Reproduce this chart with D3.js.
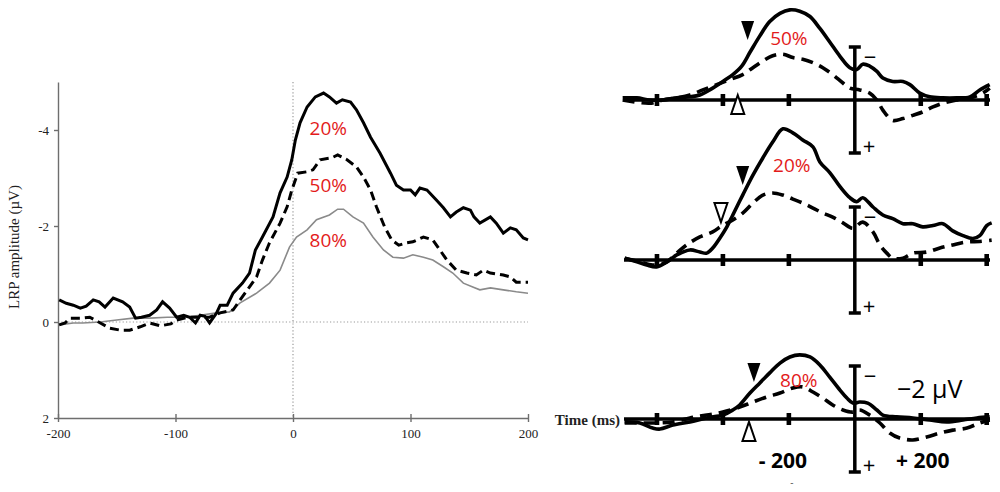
<!DOCTYPE html>
<html>
<head>
<meta charset="utf-8">
<script src="https://cdn.jsdelivr.net/npm/d3@7"></script>
<style>
  body { margin: 0; background: #fff; }
</style>
</head>
<body>
<div id="chart"></div>
<script>
// ---- left panel data: LRP amplitude (uV) by time (ms), negative is up
const lrp20 = [[-199,-0.46],[-193,-0.39],[-187,-0.35],[-181,-0.29],[-176,-0.33],[-170,-0.46],[-165,-0.42],[-160,-0.31],[-153,-0.5],[-145,-0.42],[-139,-0.31],[-134,-0.08],[-129,-0.1],[-122,-0.14],[-116,-0.25],[-111,-0.42],[-105,-0.29],[-99,-0.1],[-93,-0.14],[-88,-0.1],[-83,0.02],[-79,-0.14],[-75,-0.12],[-71,0.02],[-65,-0.19],[-62,-0.35],[-56,-0.35],[-51,-0.6],[-43,-0.81],[-37,-1.02],[-32,-1.5],[-26,-1.77],[-17,-2.19],[-11,-2.69],[-5,-3.02],[-1,-3.38],[2,-3.79],[6,-4.15],[12,-4.48],[19,-4.69],[26,-4.77],[31,-4.69],[37,-4.56],[42,-4.63],[49,-4.58],[54,-4.42],[60,-4.15],[66,-3.85],[74,-3.52],[83,-3.1],[88,-2.85],[94,-2.75],[100,-2.75],[104,-2.65],[108,-2.79],[114,-2.75],[122,-2.54],[128,-2.38],[134,-2.19],[139,-2.29],[145,-2.38],[151,-2.33],[154,-2.19],[159,-2.06],[168,-2.19],[173,-2.06],[179,-1.85],[185,-1.96],[190,-1.92],[196,-1.75],[200,-1.71]];
const lrp50 = [[-199,0.06],[-194,0.02],[-190,-0.08],[-181,-0.08],[-173,-0.1],[-164,0.02],[-156,0.13],[-147,0.17],[-139,0.17],[-130,0.1],[-122,0.02],[-113,0.08],[-104,0.04],[-99,-0.04],[-90,-0.1],[-79,-0.1],[-71,-0.1],[-62,-0.19],[-51,-0.25],[-45,-0.46],[-37,-0.73],[-31,-0.94],[-26,-1.29],[-20,-1.65],[-11,-2.06],[-5,-2.4],[-1,-2.75],[4,-3.1],[12,-3.13],[17,-3.17],[23,-3.38],[33,-3.42],[38,-3.48],[46,-3.38],[54,-3.23],[60,-3.02],[66,-2.75],[71,-2.4],[78,-1.98],[84,-1.71],[90,-1.6],[97,-1.65],[102,-1.67],[111,-1.77],[119,-1.71],[125,-1.5],[131,-1.29],[139,-1.08],[148,-1.02],[156,-0.98],[162,-1.08],[168,-1.02],[179,-0.98],[185,-0.94],[190,-0.83],[200,-0.83]];
const lrp80 = [[-199,0.06],[-187,0.02],[-179,0.02],[-164,0],[-150,-0.04],[-136,-0.08],[-122,-0.08],[-107,-0.1],[-93,-0.1],[-79,-0.14],[-65,-0.19],[-54,-0.21],[-45,-0.4],[-31,-0.6],[-20,-0.81],[-11,-1.08],[-3,-1.56],[3,-1.77],[12,-1.92],[20,-2.13],[31,-2.23],[38,-2.35],[43,-2.35],[51,-2.19],[60,-2.06],[68,-1.77],[77,-1.5],[85,-1.35],[94,-1.33],[102,-1.4],[111,-1.35],[119,-1.29],[128,-1.15],[136,-1.02],[145,-0.81],[153,-0.73],[159,-0.67],[168,-0.71],[179,-0.67],[190,-0.63],[200,-0.6]];
const leftXTicks = [-200, -100, 0, 100, 200];
const leftYTicks = [-4, -2, 0, 2];

// ---- right panels: 50%, 20%, 80% (solid / dashed)
const panelNames = ["50%", "20%", "80%"];
const p50Solid = [[-704,-0.08],[-661,-0.08],[-622,0],[-582,0],[-540,-0.08],[-500,-0.12],[-470,-0.19],[-440,-0.38],[-400,-0.7],[-370,-0.96],[-343,-1.28],[-318,-1.8],[-288,-2.42],[-258,-2.96],[-227,-3.27],[-197,-3.4],[-167,-3.35],[-136,-3.15],[-106,-2.7],[-76,-2.19],[-45,-1.65],[-15,-1.22],[6,-1.15],[24,-1.35],[45,-1.28],[67,-1.08],[85,-0.83],[115,-0.7],[146,-0.7],[167,-0.58],[197,-0.26],[227,-0.12],[267,-0.08],[309,-0.08],[349,-0.12],[379,-0.38],[409,-0.58]];
const p50Dashed = [[-704,0],[-622,0.12],[-582,0],[-540,-0.08],[-500,-0.19],[-461,-0.38],[-419,-0.58],[-379,-0.77],[-340,-0.96],[-309,-1.22],[-279,-1.47],[-249,-1.67],[-218,-1.73],[-188,-1.6],[-158,-1.54],[-127,-1.41],[-97,-1.22],[-67,-0.96],[-36,-0.64],[-15,-0.45],[15,-0.38],[45,-0.26],[67,0],[85,0.38],[115,0.77],[146,0.7],[176,0.58],[206,0.45],[237,0.26],[267,0.12],[309,0],[349,-0.08],[388,-0.26],[409,-0.45]];
const p20Solid = [[-698,-0.07],[-661,0.07],[-631,0.19],[-601,0.26],[-570,0.07],[-540,-0.19],[-500,-0.38],[-470,-0.3],[-449,-0.26],[-431,-0.45],[-409,-0.83],[-388,-1.25],[-370,-1.7],[-340,-2.45],[-309,-3.2],[-279,-3.85],[-249,-4.45],[-218,-4.95],[-188,-4.8],[-158,-4.53],[-127,-4.27],[-106,-3.7],[-76,-3.3],[-45,-2.77],[-15,-2.35],[6,-2.2],[24,-2.35],[55,-2],[85,-1.7],[115,-1.56],[146,-1.37],[176,-1.37],[206,-1.25],[237,-1.3],[267,-1.37],[297,-1.1],[328,-0.92],[358,-0.81],[379,-0.92],[400,-1.3],[415,-1.4]];
const p20Dashed = [[-698,-0.07],[-652,0.07],[-613,0.19],[-570,0.07],[-540,-0.26],[-510,-0.57],[-470,-0.87],[-431,-1.06],[-400,-1.32],[-370,-1.51],[-340,-1.77],[-309,-2.15],[-279,-2.45],[-249,-2.53],[-218,-2.45],[-188,-2.3],[-158,-2.15],[-127,-1.96],[-97,-1.77],[-67,-1.62],[-36,-1.4],[-6,-1.2],[24,-1.43],[55,-1.06],[76,-0.57],[97,-0.26],[115,-0.07],[146,-0.07],[176,-0.26],[218,-0.3],[258,-0.45],[297,-0.57],[340,-0.68],[379,-0.7],[415,-0.75]];
const p80Solid = [[-698,0.11],[-652,0.15],[-613,0.34],[-591,0.38],[-552,0.23],[-500,0.11],[-449,-0.04],[-400,-0.15],[-370,-0.34],[-349,-0.53],[-318,-0.98],[-288,-1.36],[-258,-1.74],[-227,-2.11],[-197,-2.34],[-167,-2.42],[-136,-2.34],[-106,-2.04],[-76,-1.58],[-45,-1.09],[-24,-0.79],[-6,-0.6],[15,-0.64],[39,-0.6],[67,-0.34],[85,-0.15],[127,-0.08],[176,-0.04],[227,0.04],[279,0.11],[328,0.04],[370,-0.04],[409,-0.08]];
const p80Dashed = [[-698,0.15],[-652,0.15],[-601,0.15],[-552,0.11],[-500,-0.04],[-449,-0.15],[-400,-0.26],[-349,-0.45],[-309,-0.64],[-267,-0.83],[-227,-0.98],[-188,-1.17],[-158,-1.21],[-127,-1.02],[-97,-0.79],[-67,-0.53],[-36,-0.34],[-6,-0.26],[15,-0.34],[45,-0.15],[76,0.15],[106,0.53],[136,0.72],[176,0.79],[218,0.68],[258,0.53],[297,0.42],[340,0.34],[379,0.15],[409,0.04]];
const rightTicks = [-600, -400, -200, 200, 400];
// onset markers (time, amplitude at tip) per panel
const onsetSolidT = [-325, -340, -306];
const onsetSolidV = [-2.26, -2.83, -1.4];
const onsetDashedT = [-355, -406, -321];
const onsetDashedV = [-0.19, -1.43, 0.11];
const onsetDashedDir = ["up", "down", "up"];

const W = 1000, H = 492;
const red = "#e31b1b";
const serif = "'Liberation Serif', 'DejaVu Serif', serif";
const sans = "'Open Sans', 'Noto Sans', sans-serif";

const svg = d3.select("#chart").append("svg")
    .attr("width", W)
    .attr("height", H);

// ================= left panel =================
const xL = d3.scaleLinear().domain([-200, 200]).range([58, 528]);
const yL = d3.scaleLinear().domain([-5, 2]).range([82, 418]);

// dotted zero lines
svg.append("line")
    .attr("x1", xL(0)).attr("x2", xL(0))
    .attr("y1", yL(-5)).attr("y2", yL(2))
    .attr("stroke", "#999").attr("stroke-width", 1.2).attr("stroke-dasharray", "1.2,2.2");
svg.append("line")
    .attr("x1", xL(-200)).attr("x2", xL(200))
    .attr("y1", yL(0)).attr("y2", yL(0))
    .attr("stroke", "#999").attr("stroke-width", 1.2).attr("stroke-dasharray", "1.2,2.2");

const gx = svg.append("g")
    .attr("transform", `translate(0, ${yL(2)})`)
    .call(d3.axisBottom(xL).tickValues(leftXTicks).tickFormat(d => String(d))
      .tickSizeOuter(0).tickSizeInner(4).tickPadding(7));
const gy = svg.append("g")
    .attr("transform", `translate(${xL(-200)}, 0)`)
    .call(d3.axisLeft(yL).tickValues(leftYTicks).tickFormat(d => String(d))
      .tickSizeOuter(0).tickSizeInner(4).tickPadding(5));

[gx, gy].forEach(g => {
  g.select(".domain").attr("stroke", "#6e6e6e").attr("stroke-width", 1.4);
  g.selectAll(".tick line").attr("stroke", "#6e6e6e").attr("stroke-width", 1.4);
  g.selectAll("text").style("font-family", serif).style("font-size", "13px").attr("fill", "#222");
});
gx.selectAll(".tick line").attr("y1", -4);

svg.append("text")
    .attr("transform", `translate(19, 247) rotate(-90)`)
    .attr("text-anchor", "middle")
    .style("font-family", serif).style("font-size", "15px").attr("fill", "#222")
    .text("LRP amplitude (µV)");

const lineL = d3.line().x(d => xL(d[0])).y(d => yL(d[1]));
svg.append("path").datum(lrp80).attr("d", lineL)
    .attr("fill", "none").attr("stroke", "#8a8a8a").attr("stroke-width", 1.6);
svg.append("path").datum(lrp50).attr("d", lineL)
    .attr("fill", "none").attr("stroke", "#000").attr("stroke-width", 3).attr("stroke-dasharray", "9,5");
svg.append("path").datum(lrp20).attr("d", lineL)
    .attr("fill", "none").attr("stroke", "#000").attr("stroke-width", 3);

// red condition labels
const leftLabels = [["20%", 30, -4.04], ["50%", 30, -2.85], ["80%", 30, -1.71]];
svg.selectAll(".llab").data(leftLabels).enter().append("text")
    .attr("x", d => xL(d[1])).attr("y", d => yL(d[2]))
    .attr("text-anchor", "middle").attr("dominant-baseline", "central")
    .style("font-family", sans).style("font-size", "19px").attr("fill", red)
    .text(d => d[0]);

// ================= right panels =================
const xR = d3.scaleLinear().domain([-700, 410]).range([624, 990]);
const panelBase = [100, 260, 419];
const panelData = [[p50Solid, p50Dashed], [p20Solid, p20Dashed], [p80Solid, p80Dashed]];
const panelLabelPos = [[-200, -2.34], [-191, -3.58], [-170, -1.47]];

panelData.forEach((pair, i) => {
  const y0 = panelBase[i];
  const yR = d3.scaleLinear().domain([-2, 2]).range([y0 - 53, y0 + 53]);
  const g = svg.append("g");

  // time axis
  g.append("line")
      .attr("x1", xR(-700)).attr("x2", xR(410))
      .attr("y1", yR(0)).attr("y2", yR(0))
      .attr("stroke", "#000").attr("stroke-width", 3.5);
  g.selectAll(".tk").data(rightTicks).enter().append("rect")
      .attr("x", d => xR(d) - 2.3).attr("y", yR(0) - 6)
      .attr("width", 4.6).attr("height", 12).attr("fill", "#000");

  // amplitude bar
  g.append("line")
      .attr("x1", xR(0)).attr("x2", xR(0))
      .attr("y1", yR(-2)).attr("y2", yR(2))
      .attr("stroke", "#000").attr("stroke-width", 3.5);
  [-2, 2].forEach(v => {
    g.append("line")
        .attr("x1", xR(0) - 6).attr("x2", xR(0) + 6)
        .attr("y1", yR(v)).attr("y2", yR(v))
        .attr("stroke", "#000").attr("stroke-width", 3.5);
  });
  g.append("text").attr("x", xR(0) + 9).attr("y", yR(-1.65))
      .attr("dominant-baseline", "central")
      .style("font-family", sans).style("font-size", "22px").attr("fill", "#000")
      .text("−");
  g.append("text").attr("x", xR(0) + 8).attr("y", yR(1.7))
      .attr("dominant-baseline", "central")
      .style("font-family", sans).style("font-size", "22px").attr("fill", "#000")
      .text("+");

  const lineR = d3.line().curve(d3.curveCatmullRom).x(d => xR(d[0])).y(d => yR(d[1]));
  g.append("path").datum(pair[1]).attr("d", lineR)
      .attr("fill", "none").attr("stroke", "#000").attr("stroke-width", 3.6)
      .attr("stroke-dasharray", "12,7");
  g.append("path").datum(pair[0]).attr("d", lineR)
      .attr("fill", "none").attr("stroke", "#000").attr("stroke-width", 3.6);

  // onset triangles
  const tw = 6.5, th = 19;
  const sx = xR(onsetSolidT[i]), sy = yR(onsetSolidV[i]);
  g.append("path")
      .attr("d", `M${sx - tw},${sy - th}L${sx + tw},${sy - th}L${sx},${sy}Z`)
      .attr("fill", "#000");
  const dx = xR(onsetDashedT[i]), dy = yR(onsetDashedV[i]);
  const s = onsetDashedDir[i] === "up" ? 1 : -1;
  g.append("path")
      .attr("d", `M${dx},${dy}L${dx + tw},${dy + s * th}L${dx - tw},${dy + s * th}Z`)
      .attr("fill", "#fff").attr("stroke", "#000").attr("stroke-width", 2);

  g.append("text")
      .attr("x", xR(panelLabelPos[i][0])).attr("y", yR(panelLabelPos[i][1]))
      .attr("text-anchor", "middle").attr("dominant-baseline", "central")
      .style("font-family", sans).style("font-size", "19px").attr("fill", red)
      .text(panelNames[i]);
});

// bottom panel annotations
const yB = panelBase[2];
svg.append("text")
    .attr("x", 620).attr("y", yB + 1)
    .attr("text-anchor", "end").attr("dominant-baseline", "central")
    .style("font-family", serif).style("font-size", "15px").style("font-weight", "bold").attr("fill", "#222")
    .text("Time (ms)");
svg.append("text")
    .attr("x", xR(-200) - 6).attr("y", 468)
    .attr("text-anchor", "middle")
    .style("font-family", sans).style("font-size", "21px").style("font-weight", "bold")
    .text("- 200");
svg.append("text")
    .attr("x", xR(200) + 2).attr("y", 468)
    .attr("text-anchor", "middle")
    .style("font-family", sans).style("font-size", "21px").style("font-weight", "bold")
    .text("+ 200");
svg.append("text")
    .attr("x", xR(-200) + 3).attr("y", 486)
    .attr("text-anchor", "middle")
    .style("font-family", sans).style("font-size", "10px").attr("fill", "#555")
    .text("-");
svg.append("text")
    .attr("x", 897).attr("y", 398)
    .style("font-family", sans).style("font-size", "25px")
    .text("−2 µV");
</script>
</body>
</html>
